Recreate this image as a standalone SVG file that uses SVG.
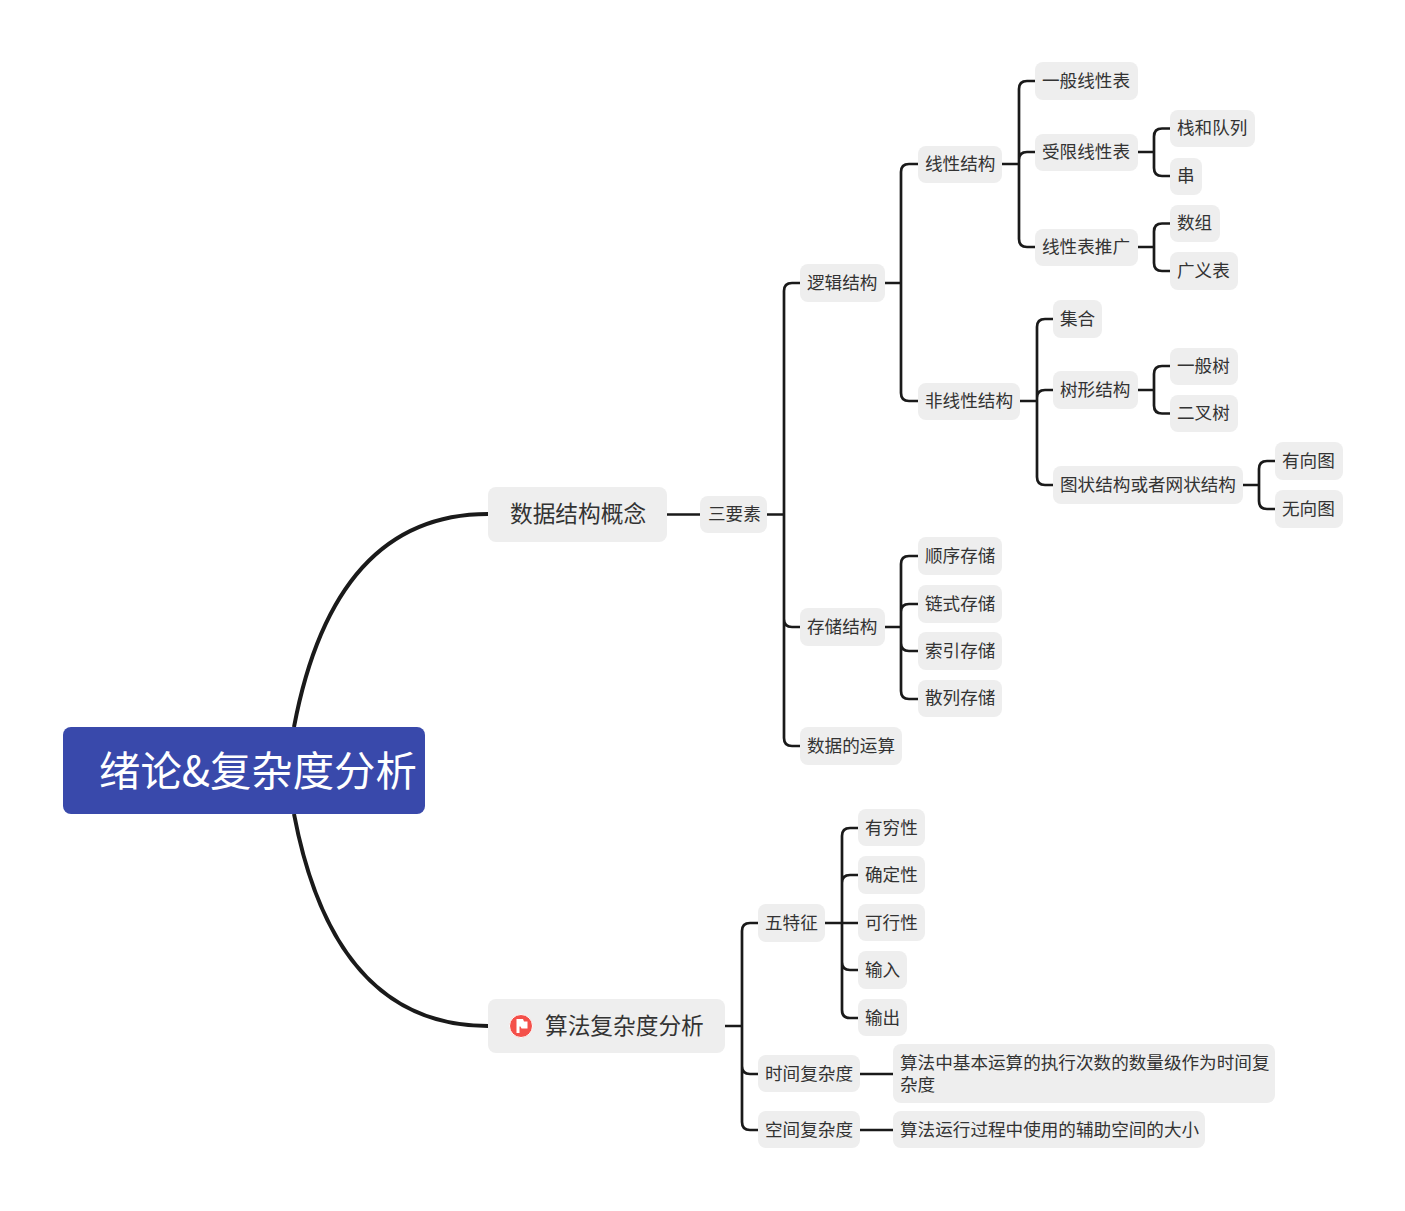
<svg xmlns="http://www.w3.org/2000/svg" width="1405" height="1211" viewBox="0 0 1405 1211">
<style>
text{font-family:"Noto Sans CJK SC","Noto Sans",sans-serif;font-weight:400;fill:#333;font-size:17.6px;dominant-baseline:central;transform:translateY(-1.7px)}
.b{fill:#eee}
.big{font-size:22.7px}
.root{font-size:41.400px;fill:#fff;transform:translateY(-2.400px)}
.c{fill:none;stroke:#1a1a1a;stroke-width:2.7}
.m{fill:none;stroke:#1a1a1a;stroke-width:4}
</style>
<rect width="1405" height="1211" fill="#fff"/>
<g id="connectors">
<path class="m" d="M294 727C318 600 375 514 488 514M294 814C318 940 375 1026 488 1026"/>
<path class="c" d="M667 514.500H700M767 514.500H784M800 283H792Q784 283 784 291V738Q784 746 792 746H800M784 619Q784 627 792 627H800"/>
<path class="c" d="M885 283H901M918 164H909Q901 164 901 172V393Q901 401 909 401H918"/>
<path class="c" d="M1002 164H1019M1035 81H1027Q1019 81 1019 89V239Q1019 247 1027 247H1035M1019 160Q1019 152 1027 152H1035"/>
<path class="c" d="M1138 152H1154M1170 128.500H1162Q1154 128.500 1154 136.500V168Q1154 176 1162 176H1170"/>
<path class="c" d="M1138 247H1154M1170 223.500H1162Q1154 223.500 1154 231.500V263Q1154 271 1162 271H1170"/>
<path class="c" d="M1020 401H1037M1053 319H1045Q1037 319 1037 327V477Q1037 485 1045 485H1053M1037 398Q1037 390 1045 390H1053"/>
<path class="c" d="M1138 390H1154M1170 366H1162Q1154 366 1154 374V405.500Q1154 413.500 1162 413.500H1170"/>
<path class="c" d="M1243 485H1259M1275 461H1267Q1259 461 1259 469V501Q1259 509 1267 509H1275"/>
<path class="c" d="M885 627H901M918 556H909Q901 556 901 564V691Q901 699 909 699H918M901 612Q901 604 909 604H918M901 643Q901 651 909 651H918"/>
<path class="c" d="M725 1026H742M758 923H750Q742 923 742 931V1122Q742 1130 750 1130H758M742 1066Q742 1074 750 1074H758"/>
<path class="c" d="M825 923H858M858 828H850Q842 828 842 836V1010Q842 1018 850 1018H858M842 883Q842 875 850 875H858M842 962Q842 970 850 970H858"/>
<path class="c" d="M860 1074H893M860 1130H893"/>
</g>
<g id="root"><rect x="63" y="727" width="362" height="87" rx="8" fill="#3949ab"/><text class="root" x="99" y="770">绪论&amp;复杂度分析</text></g>
<g id="n1"><rect class="b" x="488" y="487" width="179" height="55" rx="8"/><text class="big" x="510" y="514">数据结构概念</text></g>
<g id="n2"><rect class="b" x="488" y="999" width="237" height="54" rx="8"/><circle cx="521" cy="1026" r="11.500" fill="#f4504a" stroke="#fff" stroke-width="1"/><path d="M516.500 1033V1019H523L524 1021.500H527.500V1028.500H521.500L520.500 1026.500H519.500V1033Z" fill="#fff"/><text class="big" x="545" y="1026">算法复杂度分析</text></g>
<g id="n3"><rect class="b" x="700" y="496" width="67" height="37" rx="8"/><text x="708" y="514.500">三要素</text></g>
<g id="n4"><rect class="b" x="800" y="264" width="85" height="38" rx="8"/><text x="807" y="283">逻辑结构</text></g>
<g id="n5"><rect class="b" x="918" y="146" width="84" height="37" rx="8"/><text x="925" y="164">线性结构</text></g>
<g id="n6"><rect class="b" x="1035" y="62" width="103" height="38" rx="8"/><text x="1042" y="81">一般线性表</text></g>
<g id="n7"><rect class="b" x="1035" y="134" width="103" height="37" rx="8"/><text x="1042" y="152">受限线性表</text></g>
<g id="n8"><rect class="b" x="1035" y="229" width="103" height="37" rx="8"/><text x="1042" y="247">线性表推广</text></g>
<g id="n9"><rect class="b" x="1170" y="110" width="85" height="37" rx="8"/><text x="1177" y="128.500">栈和队列</text></g>
<g id="n10"><rect class="b" x="1170" y="158" width="32" height="37" rx="8"/><text x="1177" y="176">串</text></g>
<g id="n11"><rect class="b" x="1170" y="205" width="50" height="37" rx="8"/><text x="1177" y="223.500">数组</text></g>
<g id="n12"><rect class="b" x="1170" y="252" width="68" height="38" rx="8"/><text x="1177" y="271">广义表</text></g>
<g id="n13"><rect class="b" x="918" y="383" width="102" height="37" rx="8"/><text x="925" y="401">非线性结构</text></g>
<g id="n14"><rect class="b" x="1053" y="300" width="49" height="38" rx="8"/><text x="1060" y="319">集合</text></g>
<g id="n15"><rect class="b" x="1053" y="371" width="85" height="38" rx="8"/><text x="1060" y="390">树形结构</text></g>
<g id="n16"><rect class="b" x="1053" y="466" width="190" height="38" rx="8"/><text x="1060" y="485">图状结构或者网状结构</text></g>
<g id="n17"><rect class="b" x="1170" y="348" width="68" height="37" rx="8"/><text x="1177" y="366">一般树</text></g>
<g id="n18"><rect class="b" x="1170" y="395" width="68" height="37" rx="8"/><text x="1177" y="413.500">二叉树</text></g>
<g id="n19"><rect class="b" x="1275" y="442" width="68" height="38" rx="8"/><text x="1282" y="461">有向图</text></g>
<g id="n20"><rect class="b" x="1275" y="490" width="68" height="38" rx="8"/><text x="1282" y="509">无向图</text></g>
<g id="n21"><rect class="b" x="800" y="608" width="85" height="38" rx="8"/><text x="807" y="627">存储结构</text></g>
<g id="n22"><rect class="b" x="918" y="537" width="84" height="38" rx="8"/><text x="925" y="556">顺序存储</text></g>
<g id="n23"><rect class="b" x="918" y="585" width="84" height="38" rx="8"/><text x="925" y="604">链式存储</text></g>
<g id="n24"><rect class="b" x="918" y="632" width="84" height="38" rx="8"/><text x="925" y="651">索引存储</text></g>
<g id="n25"><rect class="b" x="918" y="680" width="84" height="37" rx="8"/><text x="925" y="698.500">散列存储</text></g>
<g id="n26"><rect class="b" x="800" y="727" width="102" height="38" rx="8"/><text x="807" y="746">数据的运算</text></g>
<g id="n27"><rect class="b" x="758" y="904" width="67" height="38" rx="8"/><text x="765" y="923">五特征</text></g>
<g id="n28"><rect class="b" x="858" y="809" width="67" height="37" rx="8"/><text x="865" y="828">有穷性</text></g>
<g id="n29"><rect class="b" x="858" y="856" width="67" height="38" rx="8"/><text x="865" y="875">确定性</text></g>
<g id="n30"><rect class="b" x="858" y="904" width="67" height="37" rx="8"/><text x="865" y="923">可行性</text></g>
<g id="n31"><rect class="b" x="858" y="951" width="49" height="38" rx="8"/><text x="865" y="970">输入</text></g>
<g id="n32"><rect class="b" x="858" y="999" width="49" height="37" rx="8"/><text x="865" y="1018">输出</text></g>
<g id="n33"><rect class="b" x="758" y="1055" width="102" height="37" rx="8"/><text x="765" y="1074">时间复杂度</text></g>
<g id="n34"><rect class="b" x="758" y="1111" width="102" height="37" rx="8"/><text x="765" y="1130">空间复杂度</text></g>
<g id="n35"><rect class="b" x="893" y="1044" width="382" height="59" rx="8"/><text x="900" y="1063"><tspan x="900" y="1063">算法中基本运算的执行次数的数量级作为时间复</tspan><tspan x="900" y="1085">杂度</tspan></text></g>
<g id="n36"><rect class="b" x="893" y="1111" width="312" height="37" rx="8"/><text x="900" y="1130">算法运行过程中使用的辅助空间的大小</text></g>
</svg>
